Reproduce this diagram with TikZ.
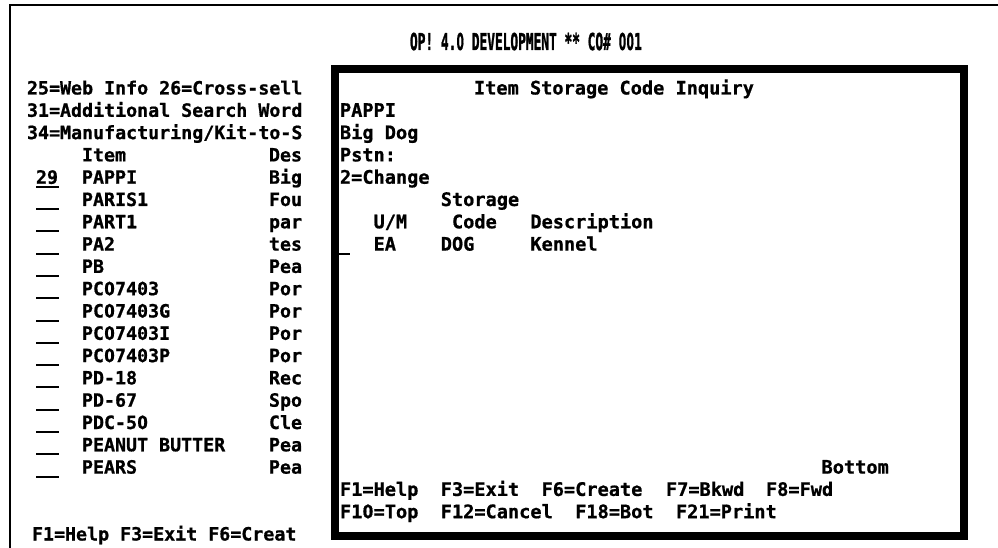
\documentclass[tikz,border=0pt]{standalone}
\usepackage{fontspec}
\newfontfamily\scr{DejaVu Sans Mono}
\newfontfamily\zfam{DejaVu Sans}
\newcommand\Z{\makebox[0.602em]{\scalebox{0.82}[1]{\zfam\bfseries\addfontfeatures{FakeBold=1}0}}}
\tikzset{
  txt/.style={anchor=base west, inner sep=0pt, outer sep=0pt, font=\scr\bfseries\fontsize{18.6}{20}\selectfont\addfontfeatures{FakeBold=0.8}},
  ltxt/.style={anchor=base west, inner sep=0pt, outer sep=0pt, font=\scr\bfseries\fontsize{18.3}{20}\selectfont\addfontfeatures{FakeBold=0.8}},
  ttxt/.style={anchor=base west, inner sep=0pt, outer sep=0pt, font=\scr\bfseries\fontsize{18.6}{20}\selectfont\addfontfeatures{FakeBold=2}},
  fld/.style={line width=2pt},
  win/.style={draw, line width=8pt, inner sep=0pt, minimum width=628.5pt, minimum height=466.5pt},
  frame/.style={line width=2pt}
}
\begin{document}
\begin{tikzpicture}[x=1pt,y=-1pt]
\useasboundingbox (0,0) rectangle (998,548);
\fill[white] (0,0) rectangle (998,548);
% outer screen frame
\coordinate (fb) at (10,548);
\coordinate (ftl) at (10,5);
\coordinate (fr) at (998,5);
\draw[frame] (fb) -- (ftl) -- (fr);
% title
\node[ttxt] (title) at (410,50) {\scalebox{0.69}[1.25]{OP! 4.\Z\ DEVELOPMENT ** CO\# \Z\Z1}};
% left panel
\node[ltxt] (l0) at (27,94.5) {25=Web Info 26=Cross-sell};
\node[ltxt] (l1) at (27,116.8) {31=Additional Search Word};
\node[ltxt] (l2) at (27,139.1) {34=Manufacturing/Kit-to-S};
\node[ltxt] (hItem) at (82,161.4) {Item};
\node[ltxt] (hDes) at (269,161.4) {Des};
\node[ltxt] (opt) at (36,183.7) {29};
\coordinate (u4a) at (36,186.7); \coordinate (u4b) at (59,186.7);
\draw[fld] (u4a) -- (u4b);
\node[ltxt] (i4) at (82,183.7) {PAPPI};          \node[ltxt] (d4) at (269,183.7) {Big};
\node[ltxt] (i5) at (82,206.0) {PARIS1};         \node[ltxt] (d5) at (269,206.0) {Fou};
\node[ltxt] (i6) at (82,228.3) {PART1};          \node[ltxt] (d6) at (269,228.3) {par};
\node[ltxt] (i7) at (82,250.6) {PA2};            \node[ltxt] (d7) at (269,250.6) {tes};
\node[ltxt] (i8) at (82,272.9) {PB};             \node[ltxt] (d8) at (269,272.9) {Pea};
\node[ltxt] (i9) at (82,295.2) {PC\Z7403};        \node[ltxt] (d9) at (269,295.2) {Por};
\node[ltxt] (i10) at (82,317.5) {PC\Z7403G};      \node[ltxt] (d10) at (269,317.5) {Por};
\node[ltxt] (i11) at (82,339.8) {PC\Z7403I};      \node[ltxt] (d11) at (269,339.8) {Por};
\node[ltxt] (i12) at (82,362.1) {PC\Z7403P};      \node[ltxt] (d12) at (269,362.1) {Por};
\node[ltxt] (i13) at (82,384.4) {PD-18};         \node[ltxt] (d13) at (269,384.4) {Rec};
\node[ltxt] (i14) at (82,406.7) {PD-67};         \node[ltxt] (d14) at (269,406.7) {Spo};
\node[ltxt] (i15) at (82,429.0) {PDC-5\Z};        \node[ltxt] (d15) at (269,429.0) {Cle};
\node[ltxt] (i16) at (82,451.3) {PEANUT BUTTER}; \node[ltxt] (d16) at (269,451.3) {Pea};
\node[ltxt] (i17) at (82,473.6) {PEARS};         \node[ltxt] (d17) at (269,473.6) {Pea};
\foreach \y in {206.0,228.3,250.6,272.9,295.2,317.5,339.8,362.1,384.4,406.7,429.0,451.3,473.6}{
  \draw[fld] (36,\y+3) -- (59,\y+3);
}
\node[ltxt] (lkeys) at (32,540.5) {F1=Help F3=Exit F6=Creat};
% window
\node[win] (w) at (649.25,302.25) {};
\node[txt] (wt) at (474,94.5) {Item Storage Code Inquiry};
\node[txt] (w1) at (340,116.8) {PAPPI};
\node[txt] (w2) at (340,139.1) {Big Dog};
\node[txt] (w3) at (340,161.4) {Pstn:};
\node[txt] (w4) at (340,183.7) {2=Change};
\node[txt] (h1) at (440.8,206.0) {Storage};
\node[txt] (h2) at (373.6,228.3) {U/M};
\node[txt] (h3) at (452,228.3) {Code};
\node[txt] (h4) at (530.4,228.3) {Description};
\coordinate (wu1) at (338,253.6); \coordinate (wu2) at (350,253.6);
\draw[fld] (wu1) -- (wu2);
\node[txt] (r1) at (373.6,250.6) {EA};
\node[txt] (r2) at (440.8,250.6) {DOG};
\node[txt] (r3) at (530.4,250.6) {Kennel};
\node[txt] (bot) at (821.6,473.6) {Bottom};
\node[txt] (k1) at (340,495.9) {F1=Help};
\node[txt] (k2) at (440.8,495.9) {F3=Exit};
\node[txt] (k3) at (541.6,495.9) {F6=Create};
\node[txt] (k4) at (666,495.9) {F7=Bkwd};
\node[txt] (k5) at (766,495.9) {F8=Fwd};
\node[txt] (k6) at (340,518.2) {F1\Z=Top};
\node[txt] (k7) at (440.8,518.2) {F12=Cancel};
\node[txt] (k8) at (575.2,518.2) {F18=Bot};
\node[txt] (k9) at (676,518.2) {F21=Print};
\end{tikzpicture}
\end{document}
